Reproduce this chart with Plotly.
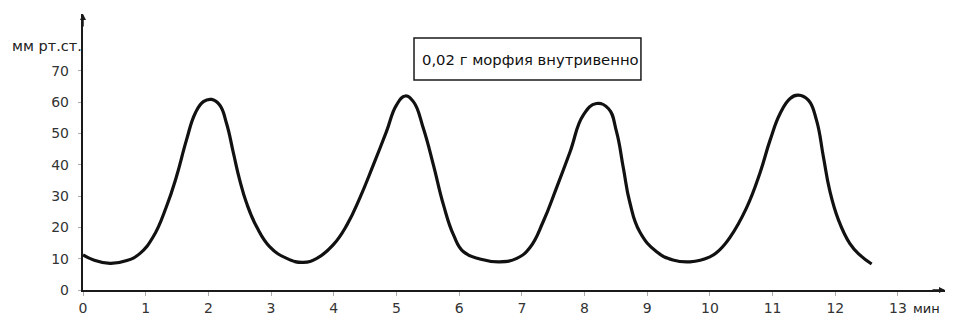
import plotly.graph_objects as go

# Blood pressure trace (mm Hg) over time (min)
time_min = [0.0, 0.17, 0.43, 0.70, 0.91, 1.12, 1.33, 1.49, 1.65, 1.79, 1.92,
            2.05, 2.18, 2.29, 2.40, 2.50, 2.61, 2.77, 2.98, 3.25, 3.51, 3.73,
            3.99, 4.21, 4.42, 4.63, 4.84, 5.00, 5.14, 5.27, 5.43, 5.59, 5.75,
            5.91, 6.07, 6.33, 6.65, 6.92, 7.13, 7.34, 7.55, 7.77, 7.98, 8.19,
            8.38, 8.51, 8.62, 8.72, 8.88, 9.15, 9.41, 9.68, 10.0, 10.16, 10.32,
            10.58, 10.80, 10.96, 11.12, 11.28, 11.41, 11.57, 11.70, 11.81,
            11.91, 12.05, 12.23, 12.39, 12.58]
pressure = [11.2, 9.6, 8.5, 9.4, 11.7, 17.0, 26.6, 36.2, 47.9, 56.5, 60.2,
            60.9, 59.1, 53.2, 43.7, 35.1, 27.7, 20.2, 13.8, 10.1, 8.8, 10.1,
            14.4, 20.8, 29.6, 39.9, 50.6, 59.1, 62.0, 60.2, 51.6, 39.9, 27.2,
            17.6, 12.2, 9.9, 9.0, 10.1, 13.6, 21.8, 32.5, 44.2, 55.9, 59.6,
            58.0, 50.6, 38.9, 28.2, 18.6, 12.2, 9.6, 9.0, 10.6, 12.9, 16.8,
            26.1, 37.5, 47.9, 56.4, 61.2, 62.3, 60.7, 54.3, 42.6,
            31.9, 22.4, 14.9, 11.2, 8.3]

x_ticks = list(range(0, 14))
y_ticks = list(range(0, 80, 10))
y_title = "мм рт.ст."
x_unit = "мин"
note = "0,02 г морфия внутривенно"

FONT = "DejaVu Sans"
INK = "#1a1a1a"
LABEL = "#333333"

fig = go.Figure()
fig.add_trace(go.Scatter(
    x=time_min, y=pressure, mode="lines",
    line=dict(color="#111111", width=3.2, shape="spline", smoothing=1.3),
    hoverinfo="skip", showlegend=False,
))

fig.update_layout(
    width=960, height=322,
    margin=dict(l=83, r=15, t=14, b=32, autoexpand=False),
    paper_bgcolor="white", plot_bgcolor="white",
    font=dict(family=FONT, size=14, color=LABEL),
    xaxis=dict(
        range=[0, 13.75], tickvals=x_ticks, ticktext=[str(v) for v in x_ticks],
        showgrid=False, zeroline=False, showline=True, linecolor=INK, linewidth=1.6,
        ticks="outside", ticklen=4, tickwidth=1, tickcolor="#aaaaaa",
        tickfont=dict(family=FONT, size=14, color=LABEL), automargin=False,
    ),
    yaxis=dict(
        range=[0, 88.2], tickvals=y_ticks, ticktext=[str(v) for v in y_ticks],
        showgrid=False, zeroline=False, showline=True, linecolor=INK, linewidth=2.4,
        ticks="outside", ticklen=3, tickwidth=1, tickcolor="#aaaaaa",
        ticklabelstandoff=6,
        tickfont=dict(family=FONT, size=14, color=LABEL), automargin=False,
    ),
)

# Axis arrowheads
fig.add_annotation(x=1, y=0, xref="paper", yref="paper", ax=-14, ay=0,
                   showarrow=True, arrowhead=2, arrowsize=0.8, arrowwidth=1.5,
                   arrowcolor=INK, text="")
fig.add_annotation(x=0, y=1, xref="paper", yref="paper", ax=0, ay=14,
                   showarrow=True, arrowhead=2, arrowsize=0.8, arrowwidth=1.5,
                   arrowcolor=INK, text="")

# Axis labels
fig.add_annotation(x=0, y=78, xref="paper", yref="y", xanchor="right", yanchor="middle",
                   xshift=1, text=y_title, showarrow=False,
                   font=dict(family=FONT, size=14.5, color="#222222"))
fig.add_annotation(x=13, y=0, xref="x", yref="y", xanchor="left", yanchor="top",
                   xshift=13, yshift=-9, text=x_unit, showarrow=False,
                   font=dict(family=FONT, size=13, color="#222222"))

# Boxed note
fig.add_shape(type="rect", xref="x", yref="y", x0=5.28, x1=8.9, y0=67.1, y1=80.5,
              line=dict(color=INK, width=1.5), fillcolor="rgba(0,0,0,0)")
fig.add_annotation(x=5.28, y=73.8, xref="x", yref="y", xanchor="left", yanchor="middle",
                   xshift=6, text=note, showarrow=False,
                   font=dict(family=FONT, size=14.8, color="#111111"))

fig.write_html("out.html")
